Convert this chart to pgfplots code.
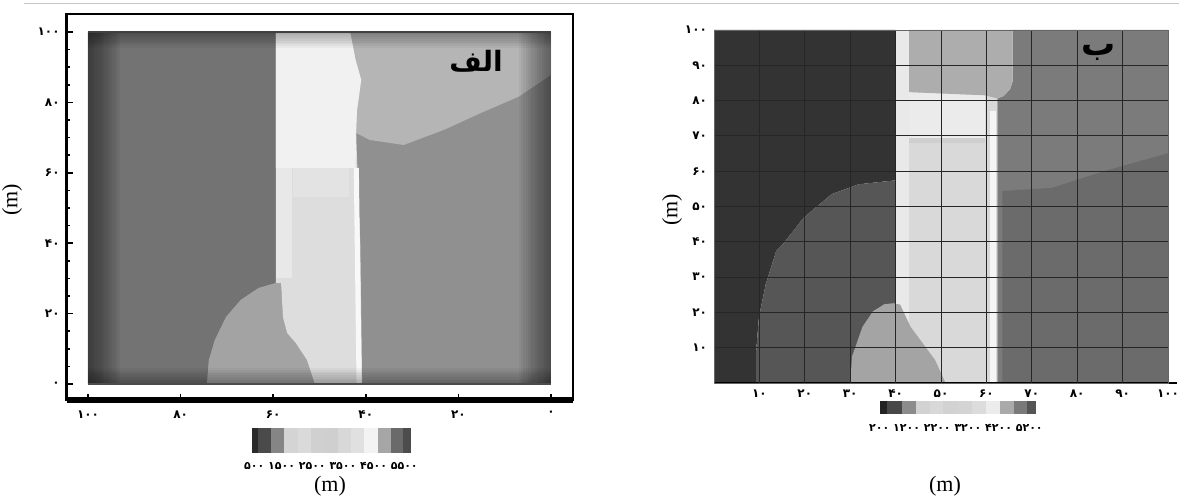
\documentclass[border=0pt]{standalone}
\usepackage{pgfplots}
\pgfplotsset{compat=1.18}
\usepackage{fontspec}
\setmainfont{Liberation Serif}
\newfontfamily\fa[Script=Arabic]{DejaVu Sans}
\TeXXeTstate=1
% left panel colours
\definecolor{aLeft}{HTML}{737373}
\definecolor{aBulge}{HTML}{A3A3A3}
\definecolor{aStrip}{HTML}{DDDDDD}
\definecolor{aStripTop}{HTML}{F1F1F1}
\definecolor{aCol}{HTML}{E8E8E8}
\definecolor{aBand}{HTML}{E3E3E3}
\definecolor{aLine}{HTML}{F8F8F8}
\definecolor{aUpR}{HTML}{B5B5B5}
\definecolor{aLowR}{HTML}{909090}
% right panel colours
\definecolor{bDark}{HTML}{333333}
\definecolor{bMed}{HTML}{565656}
\definecolor{bBulge}{HTML}{A4A4A4}
\definecolor{bStrip}{HTML}{D9D9D9}
\definecolor{bCol}{HTML}{E9E9E9}
\definecolor{bCap}{HTML}{ADADAD}
\definecolor{bLight}{HTML}{EBEBEB}
\definecolor{bBand}{HTML}{CFCFCF}
\definecolor{bLine}{HTML}{F5F5F5}
\definecolor{bUpR}{HTML}{7B7B7B}
\definecolor{bLowR}{HTML}{6B6B6B}
\begin{document}
\begin{tikzpicture}[x=1pt,y=1pt]
\useasboundingbox (0,0) rectangle (589.5,248.5);
\draw[gray!45, line width=0.5pt] (12,246.5) -- (589.5,246.5);

% ---------------- left panel (alef) ----------------
\begin{axis}[at={(33.35pt,48.5pt)}, anchor=south west, scale only axis,
  width=253.15pt, height=193pt,
  xmin=-4.75, xmax=104.6, ymin=-4.55, ymax=105.1, x dir=reverse,
  xtick={0,20,40,60,80,100}, xticklabels={۰,۲۰,۴۰,۶۰,۸۰,۱۰۰},
  ytick={0,20,40,60,80,100}, yticklabels={۰,۲۰,۴۰,۶۰,۸۰,۱۰۰},
  minor y tick num=3,
  tick align=inside, tick pos=left,
  major tick length=3pt, minor tick length=1.5pt,
  tick style={black, line width=0.8pt},
  axis line style={black, line width=1.4pt},
  xticklabel style={yshift=-2pt},
  tick label style={font=\fa\bfseries\fontsize{6}{7}\selectfont},
  clip=false, axis on top]
\addplot[draw=none, fill=aLowR] coordinates {(100,0)(100,100)(0,100)(0,0)} -- cycle;
\addplot[draw=none, fill=aUpR] coordinates {(43.4,100)(42.2,92)(41.0,86.4)(41.5,81.5)(41.9,77.8)(42.1,71.3)(39.1,69.3)(31.8,67.9)(23.1,72.2)(15.1,77.0)(7.0,81.6)(0,87.8)(0,100)} -- cycle;
\addplot[draw=none, fill=aLeft] coordinates {(100,0)(100,100)(59.4,100)(59.4,28.7)(63.1,27.3)(67.0,23.9)(70.2,19.0)(72.6,12.5)(73.9,6.8)(74.3,0)} -- cycle;
\addplot[draw=none, fill=aBulge] coordinates {(59.4,28.7)(63.1,27.3)(67.0,23.9)(70.2,19.0)(72.6,12.5)(73.9,6.8)(74.3,0)(51.0,0)(52.7,6.8)(55.1,11.6)(57.0,14.5)(57.9,19.0)(58.3,28.7)} -- cycle;
\addplot[draw=none, fill=aStrip] coordinates {(59.4,100)(59.4,28.7)(58.3,28.7)(57.9,19.0)(57.0,14.5)(55.1,11.6)(52.7,6.8)(51.0,0)(40.8,0)(41.2,40)(42.1,71.3)(41.9,77.8)(41.5,81.5)(41.0,86.4)(42.2,92)(43.4,100)} -- cycle;
\addplot[draw=none, fill=aCol] coordinates {(59.4,61.4)(56,61.4)(56,30)(59.4,30)} -- cycle;
\addplot[draw=none, fill=aStripTop] coordinates {(59.4,100)(59.4,61.4)(42.2,61.4)(42.1,71.3)(41.9,77.8)(41.5,81.5)(41.0,86.4)(42.2,92)(43.4,100)} -- cycle;
\addplot[draw=none, fill=aBand] coordinates {(55.7,53.1)(43.6,53.1)(43.6,61.4)(55.7,61.4)} -- cycle;
\addplot[draw=none, fill=aLine] coordinates {(42.6,61.4)(41.5,61.4)(40.9,0)(42.0,0)} -- cycle;
% edge darkening
\pgfplotsinvokeforeach{99.5,99,98.5,98,97.5,97,96.5,96,95.5,95,94.5,94,93.5,93}{
  \addplot[draw=none, fill=black, fill opacity=0.04] coordinates {(100,0)(#1,0)(#1,100)(100,100)} -- cycle;}
\pgfplotsinvokeforeach{0.5,1,1.5,2,2.5,3,3.5,4,4.5,5,5.5,6,6.5,7}{
  \addplot[draw=none, fill=black, fill opacity=0.04] coordinates {(0,0)(#1,0)(#1,100)(0,100)} -- cycle;}
\pgfplotsinvokeforeach{99.5,99,98.5,98,97.5,97,96.5,96,95.5}{
  \addplot[draw=none, fill=black, fill opacity=0.035] coordinates {(0,100)(100,100)(100,#1)(0,#1)} -- cycle;}
\pgfplotsinvokeforeach{0.5,1,1.5,2,2.5,3,3.5,4,4.5}{
  \addplot[draw=none, fill=black, fill opacity=0.035] coordinates {(0,0)(100,0)(100,#1)(0,#1)} -- cycle;}
\addplot[black!75, line width=0.7pt] coordinates {(100,100)(0,100)};
\addplot[black!70, line width=1pt] coordinates {(100,0)(0,0)};
\addplot[black, line width=2.6pt] coordinates {(104.6,-4.55)(-4.75,-4.55)};
\node[font=\fa\bfseries\fontsize{14}{16}\selectfont] at (axis cs:16.2,91.6) {\beginR الف\endR};
\end{axis}

% ---------------- right panel (be) ----------------
\begin{axis}[at={(357pt,57pt)}, anchor=south west, scale only axis,
  width=227pt, height=176.5pt,
  xmin=0, xmax=100, ymin=0, ymax=100,
  xtick={10,20,30,40,50,60,70,80,90,100},
  xticklabels={۱۰,۲۰,۳۰,۴۰,۵۰,۶۰,۷۰,۸۰,۹۰,۱۰۰},
  ytick={10,20,30,40,50,60,70,80,90,100},
  yticklabels={۱۰,۲۰,۳۰,۴۰,۵۰,۶۰,۷۰,۸۰,۹۰,۱۰۰},
  major tick length=0pt, tick pos=left,
  grid=major, major grid style={black!85, line width=0.45pt},
  axis line style={black!60, line width=0.4pt},
  tick label style={font=\fa\bfseries\fontsize{6}{7}\selectfont},
  clip=false, axis on top]
\addplot[draw=none, fill=bDark] coordinates {(0,0)(0,100)(39.9,100)(39.9,57.4)(31.9,56.3)(25.9,53.5)(19.8,46.9)(15.2,39.4)(13.7,37.4)(11.4,28)(9.9,18.7)(9.3,9.3)(9.3,0)} -- cycle;
\addplot[draw=none, fill=bMed] coordinates {(9.3,0)(9.3,9.3)(9.9,18.7)(11.4,28)(13.7,37.4)(15.2,39.4)(19.8,46.9)(25.9,53.5)(31.9,56.3)(39.9,57.4)(39.9,0)} -- cycle;
\addplot[draw=none, fill=bStrip] coordinates {(39.9,0)(39.9,100)(62.4,100)(62.4,0)} -- cycle;
\addplot[draw=none, fill=bCol] coordinates {(40,0)(40,100)(43,100)(43,0)} -- cycle;
\addplot[draw=none, fill=bBulge] coordinates {(30,0)(30.4,7.5)(32.7,15.9)(35.0,20.3)(37.5,22.3)(39.5,22.6)(41,22.2)(43.3,15.9)(48.7,6.5)(51,0)} -- cycle;
\addplot[draw=none, fill=bLight] coordinates {(43,82.4)(59.7,81.5)(59.7,69.3)(43,69.3)} -- cycle;
\addplot[draw=none, fill=bBand] coordinates {(43,69.3)(59.7,69.3)(59.7,67.9)(43,67.9)} -- cycle;
\addplot[draw=none, fill=bLine] coordinates {(60.7,0)(60.7,77)(62.1,77)(62.1,0)} -- cycle;
\addplot[draw=none, fill=bUpR] coordinates {(62.4,0)(62.4,80.6)(63.8,81.3)(65.2,83.2)(65.8,85.5)(65.8,100)(100,100)(100,0)} -- cycle;
\addplot[draw=none, fill=bCap] coordinates {(43,100)(65.8,100)(65.8,85.5)(65.2,83.2)(63.8,81.3)(62.4,80.6)(59.7,81.5)(43,82.4)} -- cycle;
\addplot[draw=none, fill=bLowR] coordinates {(63.5,0)(63.5,54.4)(74.5,55.3)(85.9,60)(100,65.1)(100,0)} -- cycle;
\addplot[black, line width=1pt] coordinates {(0,0)(102,0)};
\node[font=\fa\bfseries\fontsize{17}{19}\selectfont] at (axis cs:84.8,93.5) {\beginR ب\endR};
\end{axis}

% ---------------- colour bars ----------------
\begin{axis}[at={(126pt,22pt)}, anchor=south west, scale only axis,
  width=79.5pt, height=12.5pt, xmin=252.7, xmax=411.7, ymin=0, ymax=1, hide axis]
\addplot[draw=none, fill={rgb,255:red,42;green,42;blue,42}] coordinates {(252.7,0)(258.3,0)(258.3,1)(252.7,1)} -- cycle;
\addplot[draw=none, fill={rgb,255:red,74;green,74;blue,74}] coordinates {(258.3,0)(271.7,0)(271.7,1)(258.3,1)} -- cycle;
\addplot[draw=none, fill={rgb,255:red,133;green,133;blue,133}] coordinates {(271.7,0)(285,0)(285,1)(271.7,1)} -- cycle;
\addplot[draw=none, fill={rgb,255:red,212;green,212;blue,212}] coordinates {(285,0)(298.3,0)(298.3,1)(285,1)} -- cycle;
\addplot[draw=none, fill={rgb,255:red,218;green,218;blue,218}] coordinates {(298.3,0)(311.7,0)(311.7,1)(298.3,1)} -- cycle;
\addplot[draw=none, fill={rgb,255:red,208;green,208;blue,208}] coordinates {(311.7,0)(325,0)(325,1)(311.7,1)} -- cycle;
\addplot[draw=none, fill={rgb,255:red,207;green,207;blue,207}] coordinates {(325,0)(338.3,0)(338.3,1)(325,1)} -- cycle;
\addplot[draw=none, fill={rgb,255:red,216;green,216;blue,216}] coordinates {(338.3,0)(351.7,0)(351.7,1)(338.3,1)} -- cycle;
\addplot[draw=none, fill={rgb,255:red,224;green,224;blue,224}] coordinates {(351.7,0)(365,0)(365,1)(351.7,1)} -- cycle;
\addplot[draw=none, fill={rgb,255:red,243;green,243;blue,243}] coordinates {(365,0)(378.3,0)(378.3,1)(365,1)} -- cycle;
\addplot[draw=none, fill={rgb,255:red,166;green,166;blue,166}] coordinates {(378.3,0)(391.7,0)(391.7,1)(378.3,1)} -- cycle;
\addplot[draw=none, fill={rgb,255:red,106;green,106;blue,106}] coordinates {(391.7,0)(403.3,0)(403.3,1)(391.7,1)} -- cycle;
\addplot[draw=none, fill={rgb,255:red,76;green,76;blue,76}] coordinates {(403.3,0)(411.7,0)(411.7,1)(403.3,1)} -- cycle;
\end{axis}
\begin{axis}[at={(440pt,41.5pt)}, anchor=south west, scale only axis,
  width=78pt, height=6.7pt, xmin=880, xmax=1036, ymin=0, ymax=1, hide axis]
\addplot[draw=none, fill={rgb,255:red,35;green,35;blue,35}] coordinates {(880,0)(887.3,0)(887.3,1)(880,1)} -- cycle;
\addplot[draw=none, fill={rgb,255:red,72;green,72;blue,72}] coordinates {(887.3,0)(901.7,0)(901.7,1)(887.3,1)} -- cycle;
\addplot[draw=none, fill={rgb,255:red,140;green,140;blue,140}] coordinates {(901.7,0)(916,0)(916,1)(901.7,1)} -- cycle;
\addplot[draw=none, fill={rgb,255:red,210;green,210;blue,210}] coordinates {(916,0)(930,0)(930,1)(916,1)} -- cycle;
\addplot[draw=none, fill={rgb,255:red,216;green,216;blue,216}] coordinates {(930,0)(943.3,0)(943.3,1)(930,1)} -- cycle;
\addplot[draw=none, fill={rgb,255:red,210;green,210;blue,210}] coordinates {(943.3,0)(957.3,0)(957.3,1)(943.3,1)} -- cycle;
\addplot[draw=none, fill={rgb,255:red,212;green,212;blue,212}] coordinates {(957.3,0)(971.7,0)(971.7,1)(957.3,1)} -- cycle;
\addplot[draw=none, fill={rgb,255:red,220;green,220;blue,220}] coordinates {(971.7,0)(986,0)(986,1)(971.7,1)} -- cycle;
\addplot[draw=none, fill={rgb,255:red,236;green,236;blue,236}] coordinates {(986,0)(1000,0)(1000,1)(986,1)} -- cycle;
\addplot[draw=none, fill={rgb,255:red,170;green,170;blue,170}] coordinates {(1000,0)(1014,0)(1014,1)(1000,1)} -- cycle;
\addplot[draw=none, fill={rgb,255:red,122;green,122;blue,122}] coordinates {(1014,0)(1027.3,0)(1027.3,1)(1014,1)} -- cycle;
\addplot[draw=none, fill={rgb,255:red,85;green,85;blue,85}] coordinates {(1027.3,0)(1036,0)(1036,1)(1027.3,1)} -- cycle;
\end{axis}

% ---------------- texts (numbers run left to right, as in the reference) ----------------
\node[font=\fa\bfseries\fontsize{5.5}{6}\selectfont] at (165.5,15.5) {\beginL ۵۰۰ ۱۵۰۰ ۲۵۰۰ ۳۵۰۰ ۴۵۰۰ ۵۵۰۰\endL};
\node[font=\fa\bfseries\fontsize{5.5}{6}\selectfont] at (478,34.5) {\beginL ۲۰۰ ۱۲۰۰ ۲۲۰۰ ۳۲۰۰ ۴۲۰۰ ۵۲۰۰\endL};
\node[font=\fontsize{11}{13}\selectfont] at (165,5.5) {(m)};
\node[font=\fontsize{11}{13}\selectfont] at (472.5,5.5) {(m)};
\node[font=\fontsize{11}{13}\selectfont, rotate=90] at (6,148.5) {(m)};
\node[font=\fontsize{11}{13}\selectfont, rotate=90] at (336,143.5) {(m)};
\end{tikzpicture}
\end{document}
